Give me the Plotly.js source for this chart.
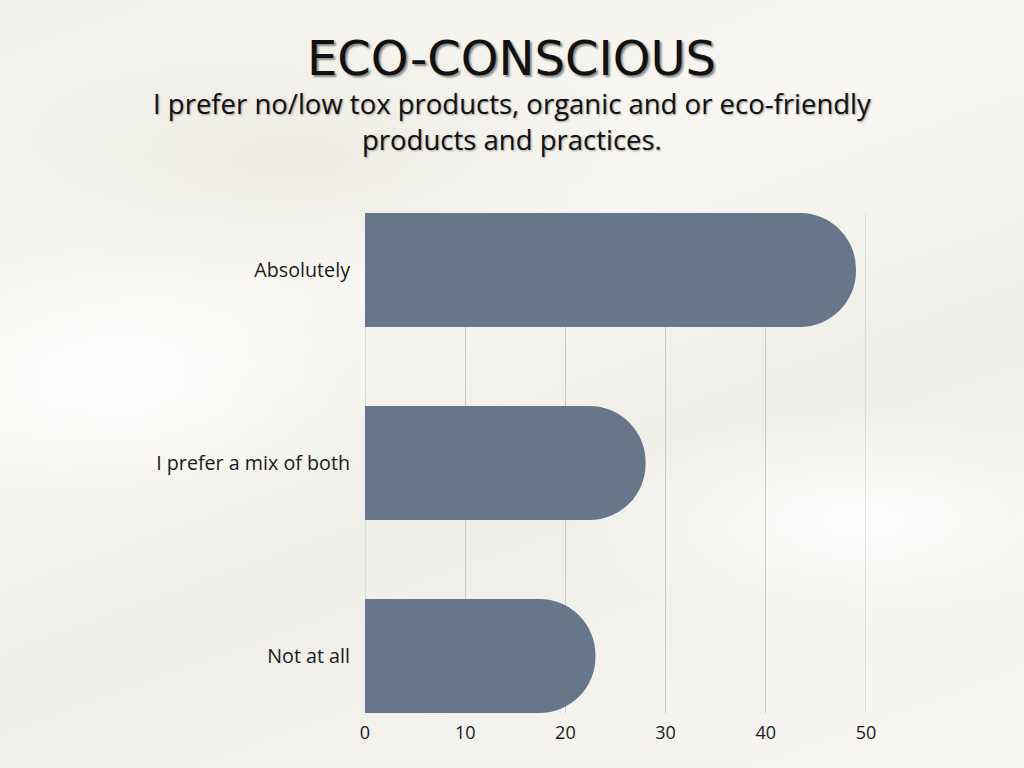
<!DOCTYPE html>
<html>
<head>
<meta charset="utf-8">
<script src="https://cdn.plot.ly/plotly-3.0.1.min.js"></script>
<style>
  html, body { margin: 0; padding: 0; width: 1024px; height: 768px; overflow: hidden; }
  body {
    background:
      radial-gradient(ellipse 420px 160px at 860px 520px, rgba(255,255,255,0.85), rgba(255,255,255,0) 70%),
      radial-gradient(ellipse 380px 200px at 120px 380px, rgba(255,255,255,0.8), rgba(255,255,255,0) 70%),
      radial-gradient(ellipse 500px 180px at 300px 160px, rgba(232,230,220,0.6), rgba(232,230,220,0) 70%),
      linear-gradient(160deg, #f1f0ea 0%, #f8f7f3 35%, #efeee8 60%, #f8f7f4 100%);
  }
  #chart { width: 1024px; height: 768px; }
</style>
</head>
<body>
<div id="chart"></div>
<script>
const categories = ["Absolutely", "I prefer a mix of both", "Not at all"];
const values = [49, 28, 23];
const xTicks = [0, 10, 20, 30, 40, 50];

const trace = {
  type: "bar",
  orientation: "h",
  y: categories,
  x: values,
  marker: { color: "#687689", cornerradius: "50%" },
  hoverinfo: "x+y"
};

// gridlines at the range edges (Plotly omits them at the plot border)
const edgeLines = [xTicks[0], xTicks[xTicks.length - 1]].map(v => ({
  type: "line", xref: "x", yref: "paper", x0: v, x1: v, y0: 0, y1: 1,
  layer: "below", line: { color: "#c9c9c6", width: 1 }
}));

const layout = {
  width: 1024,
  height: 768,
  paper_bgcolor: "rgba(0,0,0,0)",
  plot_bgcolor: "rgba(0,0,0,0)",
  margin: { l: 365, r: 158, t: 213, b: 55 },
  bargap: 0.41,
  showlegend: false,
  font: { family: "Open Sans, sans-serif", color: "#1a1a1a" },
  xaxis: {
    range: [0, 50],
    tickvals: xTicks,
    showgrid: true,
    gridcolor: "#c9c9c6",
    gridwidth: 1,
    zeroline: false,
    showline: false,
    ticks: "",
    ticklabelstandoff: 7,
    tickfont: { size: 18, color: "#1a1a1a" },
    fixedrange: true
  },
  yaxis: {
    type: "category",
    range: [2.295, -0.295],
    showgrid: false,
    zeroline: false,
    ticks: "",
    ticklabelstandoff: 14,
    tickfont: { size: 19.7, color: "#1a1a1a" },
    fixedrange: true
  },
  shapes: edgeLines,
  annotations: [
    {
      text: "ECO-CONSCIOUS",
      xref: "paper", yref: "paper", x: 0.293, y: 1.31,
      xanchor: "center", yanchor: "middle", showarrow: false,
      font: { family: "DejaVu Sans, sans-serif", size: 48, color: "#111111", shadow: "2px 2px 2px #8a8a8a" }
    },
    {
      text: "I prefer no/low tox products, organic and or eco-friendly",
      xref: "paper", yref: "paper", x: 0.293, y: 1.22,
      xanchor: "center", yanchor: "middle", showarrow: false,
      font: { family: "Open Sans, sans-serif", size: 27.5, color: "#111111", shadow: "1px 1px 2px #9a9a9a" }
    },
    {
      text: "products and practices.",
      xref: "paper", yref: "paper", x: 0.293, y: 1.148,
      xanchor: "center", yanchor: "middle", showarrow: false,
      font: { family: "Open Sans, sans-serif", size: 27.5, color: "#111111", shadow: "1px 1px 2px #9a9a9a" }
    }
  ]
};

Plotly.newPlot("chart", [trace], layout, { displayModeBar: false, staticPlot: true });
</script>
</body>
</html>
